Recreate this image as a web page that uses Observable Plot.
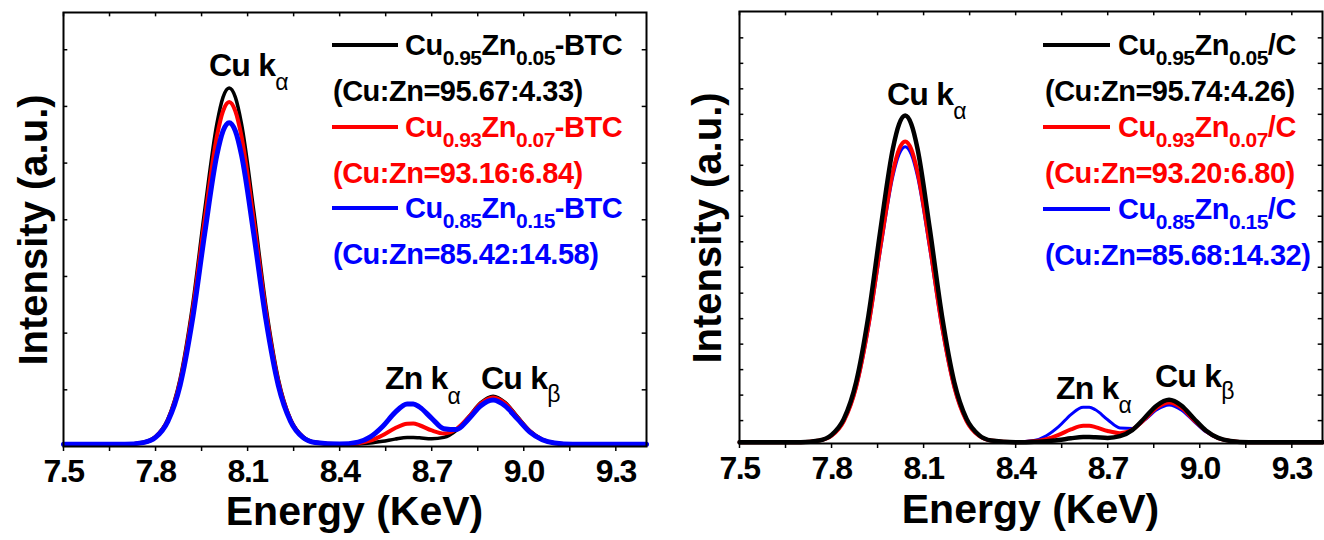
<!DOCTYPE html>
<html>
<head>
<meta charset="utf-8">
<script src="https://cdn.jsdelivr.net/npm/d3@7"></script>
<script src="https://cdn.jsdelivr.net/npm/@observablehq/plot@0.6"></script>
<style>
  html, body { margin: 0; padding: 0; background: #fff; }
  #wrap { display: flex; width: 1324px; height: 540px; }
  #wrap svg { display: block; }
</style>
</head>
<body>
<div id="wrap"><div id="left"></div><div id="right"></div></div>
<script>
// ---------- data (intensity in % of panel height) ----------
const energy = [7.50, 7.60, 7.70, 7.76, 7.80, 7.84, 7.88, 7.92, 7.96, 8.00, 8.02, 8.04, 8.06, 8.08,
  8.12, 8.16, 8.20, 8.24, 8.28, 8.32, 8.40, 8.46, 8.50, 8.54, 8.58, 8.62, 8.64, 8.66, 8.70, 8.74,
  8.78, 8.82, 8.86, 8.90, 8.94, 8.98, 9.02, 9.06, 9.10, 9.16, 9.24, 9.40];

const leftBlack = [0.5, 0.5, 0.5, 1.0, 2.3, 6.3, 15.6, 32.2, 54.3, 74.4, 80.5, 82.6, 80.5, 74.4,
  54.3, 32.2, 15.6, 6.3, 2.3, 1.0, 0.5, 0.6, 0.8, 1.2, 1.7, 2.1, 2.1, 2.0, 1.8, 2.1,
  3.7, 6.8, 10.1, 11.6, 10.1, 6.8, 3.6, 1.6, 0.8, 0.5, 0.5, 0.5];
const leftRed = [0.5, 0.5, 0.5, 0.9, 2.2, 6.1, 15.0, 31.0, 52.2, 71.5, 77.3, 79.4, 77.3, 71.5,
  52.2, 31.0, 15.0, 6.1, 2.2, 0.9, 0.5, 0.75, 1.35, 2.6, 4.2, 5.25, 5.3, 4.9, 3.7, 3.0,
  4.0, 6.7, 9.9, 11.3, 9.9, 6.6, 3.5, 1.6, 0.8, 0.5, 0.5, 0.5];
const leftBlue = [0.5, 0.5, 0.5, 0.9, 2.1, 5.8, 14.1, 29.1, 49.0, 67.2, 72.7, 74.6, 72.7, 67.2,
  49.0, 29.1, 14.1, 5.8, 2.1, 0.9, 0.55, 1.0, 2.2, 4.6, 7.8, 9.8, 9.8, 9.1, 6.5, 4.1,
  3.9, 6.3, 9.4, 10.7, 9.3, 6.3, 3.3, 1.55, 0.8, 0.5, 0.5, 0.5];

const rightBlack = [0.3, 0.3, 0.3, 0.7, 2.0, 5.7, 14.2, 29.5, 49.8, 68.3, 73.9, 75.9, 73.9, 68.3,
  49.8, 29.5, 14.2, 5.7, 2.0, 0.7, 0.3, 0.4, 0.5, 0.8, 1.2, 1.5, 1.5, 1.45, 1.3, 1.7,
  3.1, 5.9, 8.8, 10.1, 8.8, 5.85, 3.0, 1.3, 0.6, 0.3, 0.3, 0.3];
const rightRed = [0.3, 0.3, 0.3, 0.7, 1.8, 5.2, 13.1, 27.2, 45.9, 62.9, 68.1, 69.9, 68.1, 62.9,
  45.9, 27.2, 13.1, 5.2, 1.8, 0.7, 0.3, 0.5, 1.0, 2.0, 3.25, 4.1, 4.1, 3.8, 2.9, 2.4,
  3.2, 5.6, 8.3, 9.5, 8.3, 5.5, 2.9, 1.25, 0.6, 0.3, 0.3, 0.3];
const rightBlue = [0.3, 0.3, 0.3, 0.7, 1.8, 5.2, 12.9, 26.7, 45.1, 61.9, 66.9, 68.7, 66.9, 61.9,
  45.1, 26.7, 12.9, 5.2, 1.8, 0.7, 0.35, 0.7, 1.8, 3.9, 6.7, 8.4, 8.4, 7.8, 5.5, 3.6,
  3.5, 5.4, 7.8, 8.9, 7.75, 5.2, 2.7, 1.2, 0.55, 0.3, 0.3, 0.3];

const xTicks = [7.5, 7.65, 7.8, 7.95, 8.1, 8.25, 8.4, 8.55, 8.7, 8.85, 9.0, 9.15, 9.3];
const xTickLabels = ["7.5", "", "7.8", "", "8.1", "", "8.4", "", "8.7", "", "9.0", "", "9.3"];
const yTicksLeft = [13.06, 26.12, 39.18, 52.24, 65.3, 78.36, 91.42];
const yTicksRight = [5.3, 11.2, 17.1, 23.0, 28.9, 34.8, 40.8, 46.7, 52.6, 58.5, 64.4, 70.3, 76.2, 82.1, 88.0, 93.9];

const leftLegend = [
  {parts: ["Cu", "0.95", "Zn", "0.05", "-BTC"], ratio: "(Cu:Zn=95.67:4.33)", color: "#000000"},
  {parts: ["Cu", "0.93", "Zn", "0.07", "-BTC"], ratio: "(Cu:Zn=93.16:6.84)", color: "#ff0000"},
  {parts: ["Cu", "0.85", "Zn", "0.15", "-BTC"], ratio: "(Cu:Zn=85.42:14.58)", color: "#0000ff"}
];
const rightLegend = [
  {parts: ["Cu", "0.95", "Zn", "0.05", "/C"], ratio: "(Cu:Zn=95.74:4.26)", color: "#000000"},
  {parts: ["Cu", "0.93", "Zn", "0.07", "/C"], ratio: "(Cu:Zn=93.20:6.80)", color: "#ff0000"},
  {parts: ["Cu", "0.85", "Zn", "0.15", "/C"], ratio: "(Cu:Zn=85.68:14.32)", color: "#0000ff"}
];

const FONT = "'Liberation Sans', Arial, Helvetica, sans-serif";

function table(values) { return energy.map((e, i) => ({e, v: values[i]})); }

function panel(cfg) {
  const lines = cfg.series.map(s => Plot.line(table(s.values), {
    x: "e", y: "v", stroke: s.color, strokeWidth: s.width, curve: "monotone-x"
  }));
  const svg = Plot.plot({
    width: 662, height: 540,
    marginLeft: cfg.ml, marginRight: cfg.mr, marginTop: cfg.mt, marginBottom: cfg.mb,
    x: {domain: [7.5, 9.4], axis: null, label: null},
    y: {domain: [0, 100], axis: null, label: null},
    style: {fontFamily: FONT, background: "white", color: "black", fontWeight: "bold", fontSize: "32px", overflow: "visible"},
    marks: [
      ...lines,
      Plot.frame({stroke: "black", strokeWidth: 2}),
      Plot.axisX({ticks: xTicks, tickSize: 5, tickPadding: 8, strokeWidth: 1.5, label: null,
        tickFormat: (d) => xTickLabels[xTicks.indexOf(d)],
        fontSize: 32, fontWeight: "bold", fontFamily: FONT}),
      Plot.ruleX(xTicks, {x: d => d, y1: 100, y2: 99, stroke: "black", strokeWidth: 1.5}),
      Plot.ruleY(cfg.yTicks, {y: d => d, x1: 7.5, x2: 7.514, stroke: "black", strokeWidth: 1.5}),
      Plot.ruleY(cfg.yTicks, {y: d => d, x1: 9.386, x2: 9.4, stroke: "black", strokeWidth: 1.5})
    ]
  });
  const s = d3.select(svg);
  // the only texts so far are the x tick labels
  s.selectAll("text")
    .style("font-size", "32px").style("font-weight", "bold")
    .style("letter-spacing", "-1.5px");

  // axis titles
  s.append("text").attr("x", cfg.xTitle[0]).attr("y", cfg.xTitle[1])
    .attr("text-anchor", "middle").attr("font-size", 41).attr("font-weight", "bold")
    .attr("font-family", FONT).attr("fill", "black").text("Energy (KeV)");
  s.append("text").attr("transform", `translate(${cfg.yTitle[0]},${cfg.yTitle[1]}) rotate(-90)`)
    .attr("text-anchor", "middle").attr("font-size", 40).attr("font-weight", "bold")
    .attr("font-family", FONT).attr("fill", "black").text("Intensity (a.u.)");

  // peak labels
  cfg.peaks.forEach(p => {
    const t = s.append("text").attr("x", p.x).attr("y", p.y).attr("font-family", FONT)
      .attr("text-anchor", "start")
      .attr("font-weight", "bold").attr("font-size", 32).attr("letter-spacing", "-0.8px").attr("fill", "black");
    t.append("tspan").text(p.main);
    t.append("tspan").attr("dy", p.dy).attr("font-size", 23).attr("font-weight", "normal").text(p.sub);
  });

  // legend
  cfg.legend.forEach((row, i) => {
    const ly = cfg.legY[i];
    s.append("line").attr("x1", cfg.legLine[0]).attr("x2", cfg.legLine[1])
      .attr("y1", ly).attr("y2", ly).attr("stroke", row.color).attr("stroke-width", 4);
    const t = s.append("text").attr("x", cfg.legText).attr("y", ly + 10).attr("font-family", FONT)
      .attr("text-anchor", "start")
      .attr("font-weight", "bold").attr("font-size", 29).attr("letter-spacing", "-0.5px").attr("fill", row.color);
    row.parts.forEach((p, j) => {
      const sub = j % 2 === 1;
      const ts = t.append("tspan").text(p).attr("font-size", sub ? 21 : 29);
      if (j > 0) ts.attr("dy", sub ? 10 : -10);
    });
    s.append("text").attr("x", cfg.legRatio).attr("y", ly + 56).attr("font-family", FONT)
      .attr("text-anchor", "start")
      .attr("font-weight", "bold").attr("font-size", 29).attr("letter-spacing", "-0.5px")
      .attr("fill", row.color).text(row.ratio);
  });
  return svg;
}

document.getElementById("left").appendChild(panel({
  ml: 63, mr: 16, mt: 12, mb: 94,
  series: [
    {values: leftBlack, color: "#000000", width: 3.5},
    {values: leftRed, color: "#ff0000", width: 4},
    {values: leftBlue, color: "#0000ff", width: 5}
  ],
  yTicks: yTicksLeft,
  xTitle: [354.5, 525], yTitle: [47, 230],
  peaks: [
    {x: 209, y: 76, main: "Cu k", sub: "α", dy: 14},
    {x: 385, y: 389, main: "Zn k", sub: "α", dy: 15},
    {x: 481, y: 389, main: "Cu k", sub: "β", dy: 13}
  ],
  legend: leftLegend, legY: [45, 127, 208], legLine: [332, 398], legText: 405, legRatio: 333
}));

document.getElementById("right").appendChild(panel({
  ml: 77, mr: 2, mt: 11, mb: 97,
  series: [
    {values: rightBlue, color: "#0000ff", width: 3},
    {values: rightRed, color: "#ff0000", width: 4},
    {values: rightBlack, color: "#000000", width: 4.5}
  ],
  yTicks: yTicksRight,
  xTitle: [368.5, 523], yTitle: [59, 228],
  peaks: [
    {x: 225, y: 105, main: "Cu k", sub: "α", dy: 14},
    {x: 394, y: 399, main: "Zn k", sub: "α", dy: 14},
    {x: 493, y: 387, main: "Cu k", sub: "β", dy: 12}
  ],
  legend: rightLegend, legY: [45, 127, 209], legLine: [381, 448], legText: 456, legRatio: 383
}));
</script>
</body>
</html>
